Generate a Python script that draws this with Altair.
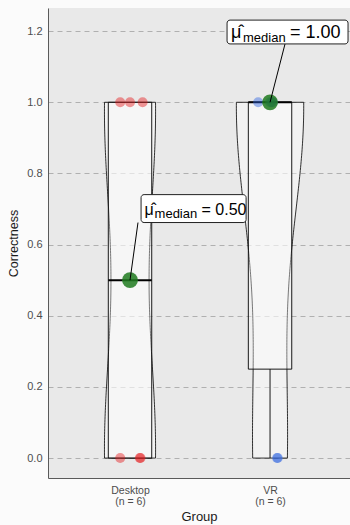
import altair as alt
import pandas as pd

# ---------------- data ----------------
groups = ["Desktop", "VR"]
group_pos = [1, 2]
n_labels = ["(n = 6)", "(n = 6)"]
desktop_values = [1, 1, 1, 0, 0, 0]
desktop_jitter = [-0.07, 0.0, 0.09, -0.07, 0.07, 0.075]
vr_values = [1, 1, 1, 1, 0, 0]
vr_jitter = [-0.085, 0.0, 0.01, 0.02, 0.05, 0.055]
medians = [0.5, 1.0]
median_texts = ["= 0.50", "= 1.00"]
y_ticks = [0.0, 0.2, 0.4, 0.6, 0.8, 1.0, 1.2]

rows = []
for g, c, vals, jit in [(groups[0], group_pos[0], desktop_values, desktop_jitter),
                        (groups[1], group_pos[1], vr_values, vr_jitter)]:
    for v, j in zip(vals, jit):
        rows.append({"group": g, "center": c, "value": v, "jitter": j})
points = pd.DataFrame(rows)

label_df = pd.DataFrame({"group": groups, "center": group_pos,
                         "median": medians, "text": median_texts})

FONT = "Liberation Sans"
XDOM = [0.4143, 2.571]
YDOM = [-0.056, 1.265]

xscale = alt.Scale(domain=XDOM, nice=False, zero=False)
yscale = alt.Scale(domain=YDOM, nice=False, zero=False)

label_expr = "datum.value == {} ? {} : {}".format(
    group_pos[0],
    "['" + groups[0] + "', '" + n_labels[0] + "']",
    "['" + groups[1] + "', '" + n_labels[1] + "']")

xaxis = alt.Axis(values=group_pos, labelExpr=label_expr, title="Group",
                 grid=False, ticks=False, labelFontSize=10.5, labelColor="#4d4d4d",
                 labelLineHeight=11.5, labelPadding=7, titleFontSize=13,
                 titleFontWeight="normal", titleColor="#1a1a1a", titlePadding=3,
                 domainColor="#5a5a5a", labelFont=FONT, titleFont=FONT)
yaxis = alt.Axis(values=y_ticks, format=".1f", title="Correctness",
                 grid=True, gridDash=[5, 4], gridColor="#b0b0b0", gridWidth=1,
                 ticks=False, labelFontSize=11, labelColor="#4d4d4d", labelPadding=6,
                 titleFontSize=12.5, titleFontWeight="normal", titleColor="#1a1a1a",
                 titlePadding=6, domainColor="#5a5a5a", labelFont=FONT, titleFont=FONT)


def X(field):
    return alt.X(field, type="quantitative", scale=xscale, axis=xaxis)


def Y(field):
    return alt.Y(field, type="quantitative", scale=yscale, axis=yaxis)


base = alt.Chart(points)

# violin
violin = base.transform_density(
    "value", groupby=["group", "center"], extent=[0, 1], bandwidth=0.36,
    steps=120, as_=["v", "dens"]
).transform_calculate(
    xl="datum.center - datum.dens * 0.322",
    xr="datum.center + datum.dens * 0.322"
).mark_area(orient="horizontal", fill="white", fillOpacity=0.4,
            stroke="black", strokeWidth=0.8).encode(
    y=Y("v"), x=X("xl"), x2="xr:Q", detail="group:N"
)

stats = base.transform_aggregate(
    q1="q1(value)", q3="q3(value)", med="median(value)",
    mn="min(value)", mx="max(value)", groupby=["group", "center"]
).transform_calculate(
    bl="datum.center - 0.155", br="datum.center + 0.155"
)

box = stats.mark_rect(fill="white", fillOpacity=0.35, stroke="black",
                      strokeWidth=0.9).encode(
    x=X("bl"), x2="br:Q", y=Y("q1"), y2="q3:Q")
whisk_lo = stats.mark_rule(color="black", strokeWidth=0.9).encode(
    x=X("center"), y=Y("mn"), y2="q1:Q")
whisk_hi = stats.mark_rule(color="black", strokeWidth=0.9).encode(
    x=X("center"), y=Y("q3"), y2="mx:Q")
med_line = stats.mark_rule(color="black", strokeWidth=2).encode(
    x=X("bl"), x2="br:Q", y=Y("med"))

dots = base.transform_calculate(px="datum.center + datum.jitter").mark_circle(
    size=100, opacity=0.45).encode(
    x=X("px"), y=Y("value"),
    color=alt.Color("group:N", legend=None,
                    scale=alt.Scale(domain=groups, range=["#e41a1c", "#2f64e0"])))

med_pts = stats.mark_circle(size=250, color="#1f7a1f", opacity=0.85).encode(
    x=X("center"), y=Y("med"))


def label_layers(i, bx0, bx1, by0, by1, lx, tx, ty, fs, sfs, dsub, deq):
    d = alt.Chart(label_df).transform_filter(
        alt.datum.group == groups[i]
    ).transform_calculate(
        bx0=f"datum.center + {bx0}", bx1=f"datum.center + {bx1}",
        by0=f"datum.median + {by0}", by1=f"datum.median + {by1}",
        lx=f"datum.center + {lx}", tx=f"datum.center + {tx}",
        ty=f"datum.median + {ty}"
    )
    conn = d.mark_rule(color="black", strokeWidth=1).encode(
        x=X("lx"), y=Y("by0"), x2="center:Q", y2="median:Q")
    rect = d.mark_rect(fill="white", stroke="#222222", strokeWidth=1,
                       cornerRadius=3).encode(
        x=X("bx0"), x2="bx1:Q", y=Y("by0"), y2="by1:Q")
    mu = d.mark_text(text="\u03bc\u0302", align="left", baseline="alphabetic",
                     font=FONT, fontSize=fs, color="black").encode(x=X("tx"), y=Y("ty"))
    sub = d.mark_text(text="median", align="left", baseline="alphabetic",
                      font=FONT, fontSize=sfs, color="black",
                      dx=dsub, dy=fs * 0.22).encode(x=X("tx"), y=Y("ty"))
    eq = d.mark_text(align="left", baseline="alphabetic", font=FONT,
                     fontSize=fs, color="black", dx=deq).encode(
        x=X("tx"), y=Y("ty"), text="text:N")
    return [conn, rect, mu, sub, eq]


lab1 = label_layers(0, 0.079, 0.829, 0.162, 0.2405, 0.057, 0.104, 0.184,
                    16, 13, 10, 57)
lab2 = label_layers(1, -0.307, 0.557, 0.164, 0.231, 0.107, -0.279, 0.181,
                    18, 13, 12, 59)

chart = alt.layer(
    violin, box, whisk_lo, whisk_hi, med_line, dots, med_pts, *lab1, *lab2
).properties(
    width=302, height=470,
    padding={"left": 48, "top": 8, "right": 0, "bottom": 47},
    autosize="none", background="#fbfbfb"
).configure_view(fill="#e9e9e9", stroke=None)

chart.save("out.html", embed_options={"renderer": "svg", "actions": False})
